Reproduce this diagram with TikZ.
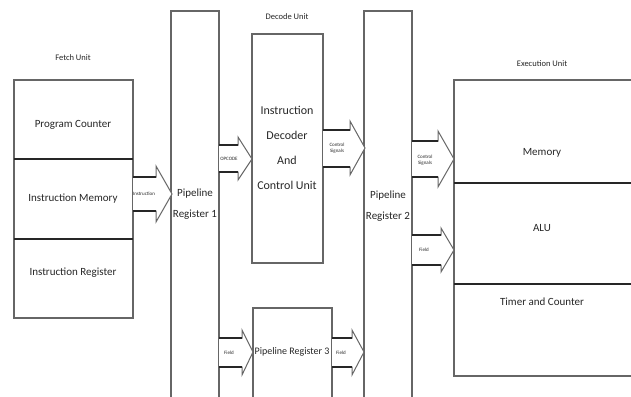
\documentclass[tikz,border=0pt]{standalone}
\usepackage{fontspec}
\setmainfont{Carlito}
\begin{document}
\begin{tikzpicture}[x=1pt,y=-1pt,
  box/.style={draw=black!60, line width=1.1pt, inner sep=0pt, outer sep=0pt, anchor=north west},
  divider/.style={draw=black!85, line width=1.6pt},
  lbl/.style={font=\fontsize{11}{13}\selectfont, text=black!85, inner sep=0pt, align=center},
  unitlbl/.style={font=\fontsize{8.5}{10}\selectfont, text=black!85, inner sep=0pt},
  arrlbl/.style={font=\fontsize{5}{6}\selectfont, text=black!85, inner sep=0pt, align=center},
  arr/.style={draw=black!60, line width=1pt, fill=white, line join=miter},
  shaft/.style={draw=black!85, line width=1.8pt}]
\useasboundingbox (0,0) rectangle (631,396);
\clip (0,0) rectangle (631,396);
% args: x1, x2 (tip), hs (head start), head top, shaft top, centre, shaft bottom, head bottom
\newcommand\blockarrow[8]{%
  \draw[arr] (#1,#5) -- (#3,#5) -- (#3,#4) -- (#2,#6) -- (#3,#8) -- (#3,#7) -- (#1,#7);
  \draw[shaft] (#1,#5) -- (#3,#5);
  \draw[shaft] (#1,#7) -- (#3,#7);}

% Fetch unit
\node[box, minimum width=119pt, minimum height=238pt] (fetch) at (14,80) {};
\node[unitlbl] (fetchlbl) at (73,58) {Fetch Unit};
\draw[divider] (14,159) -- (133,159);
\draw[divider] (14,239) -- (133,239);
\node[lbl] (pc) at (73,125) {Program Counter};
\node[lbl] (im) at (73,199) {Instruction Memory};
\node[lbl] (ir) at (73,273) {Instruction Register};

% Pipeline register 1
\node[box, minimum width=48pt, minimum height=400pt] (pr1) at (171,11) {};
\node[lbl, font=\fontsize{11}{21}\selectfont] (pr1lbl) at (195,204.5) {Pipeline\\Register 1};

% Decode unit
\node[box, minimum width=71pt, minimum height=229pt] (dec) at (252,34) {};
\node[unitlbl] (declbl) at (287,17) {Decode Unit};
\node[lbl, font=\fontsize{12}{25}\selectfont] (declines) at (287,148) {Instruction\\Decoder\\And\\Control Unit};

% Pipeline register 3
\node[box, minimum width=79pt, minimum height=200pt] (pr3) at (253,308) {};
\node[lbl, font=\fontsize{10}{12}\selectfont] (pr3lbl) at (292,352) {Pipeline Register 3};

% Pipeline register 2
\node[box, minimum width=48pt, minimum height=400pt] (pr2) at (364,11) {};
\node[lbl, font=\fontsize{11}{21}\selectfont] (pr2lbl) at (388,206.5) {Pipeline\\Register 2};

% Execution unit
\node[box, minimum width=200pt, minimum height=296pt] (exe) at (454,80) {};
\node[unitlbl] (exelbl) at (542,64) {Execution Unit};
\draw[divider] (454,183) -- (640,183);
\draw[divider] (454,284) -- (640,284);
\node[lbl] (mem) at (542,153) {Memory};
\node[lbl] (alu) at (542,228) {ALU};
\node[lbl] (tc) at (542,302) {Timer and Counter};

% Block arrows
\blockarrow{133}{172}{156}{166}{177}{194}{211}{222}
\node[arrlbl] (a1) at (144,194) {Instruction};
\blockarrow{219}{252}{238}{137}{145}{159}{172}{180}
\node[arrlbl] (a2) at (229,159) {OPCODE};
\blockarrow{323}{365}{350}{121}{130}{148}{167}{175}
\node[arrlbl] (a3) at (337,148) {Control\\Signals};
\blockarrow{412}{454}{438}{131}{141}{159}{177}{187}
\node[arrlbl] (a4) at (425,160) {Control\\Signals};
\blockarrow{412}{454}{441}{228}{235}{250}{265}{272}
\node[arrlbl] (a5) at (424,250) {Field};
\blockarrow{219}{253}{242}{330}{338}{352}{367}{375}
\node[arrlbl] (a6) at (229,353) {Field};
\blockarrow{332}{364}{352}{330}{338}{352}{367}{375}
\node[arrlbl] (a7) at (341,353) {Field};
\end{tikzpicture}
\end{document}
